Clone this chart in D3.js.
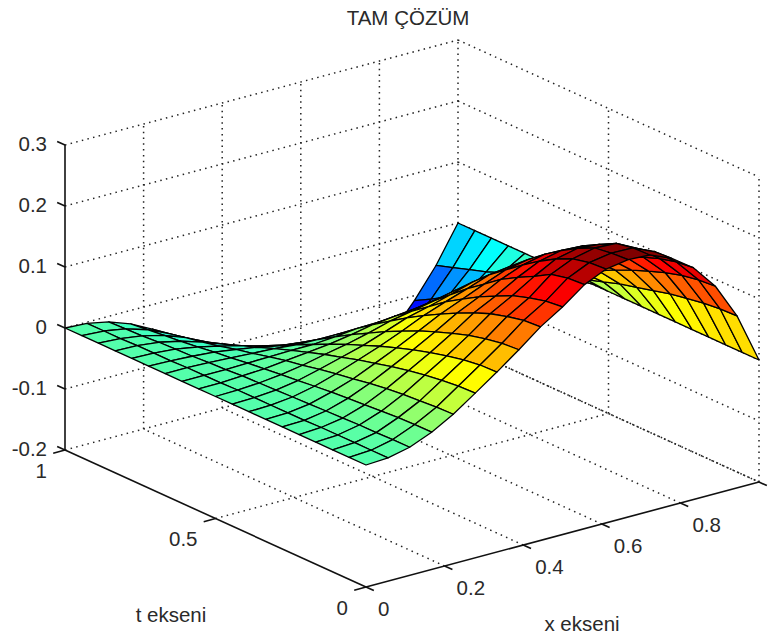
<!DOCTYPE html>
<html lang="tr">
<head>
    <meta charset="UTF-8">
    <title>TAM ÇÖZÜM</title>
    <style>
        body { margin: 0; background: #fff; }
        svg { display: block; }
        text { font-family: "Liberation Sans", Arial, sans-serif; font-size: 20.5px; fill: #2a2a2a; }
        .grid { fill: none; stroke: #222; stroke-width: 1.5px; stroke-dasharray: 1.5 4.3; }
        .grid-dense { stroke-dasharray: 1.5 2.3; }
        .axis { fill: none; stroke: #111; stroke-width: 1.6px; }
        .cell { stroke: #000; stroke-width: 1.3px; stroke-linejoin: round; }
    </style>
</head>
<body>
    <svg id="chart" width="774" height="637"></svg>

    <script src="https://d3js.org/d3.v7.min.js"></script>
    <script>
        const titleText = "TAM ÇÖZÜM";
        const xLabelText = "x ekseni";
        const tLabelText = "t ekseni";

        const xTicks = [0, 0.2, 0.4, 0.6, 0.8, 1];
        const xTickLabels = ["0", "0.2", "0.4", "0.6", "0.8"];
        const tTicks = [0, 0.5, 1];
        const tTickLabels = ["0", "0.5", "1"];
        const zTicks = [-0.2, -0.1, 0, 0.1, 0.2, 0.3];
        const zTickLabels = ["-0.2", "-0.1", "0", "0.1", "0.2", "0.3"];

        // mesh positions, 18 cells each way
        const xValues = [0, .056, .111, .167, .222, .278, .333, .389, .444, .5, .556, .611, .667, .722, .778, .833, .889, .944, 1];
        const tValues = [0, .056, .111, .167, .222, .278, .333, .389, .444, .5, .556, .611, .667, .722, .778, .833, .889, .944, 1];

        // one row per t, one column per x
        const zValues = [
            [0, .002, .010, .025, .045, .070, .095, .122, .150, .173, .200, .216, .222, .220, .205, .180, .140, .082, 0],
            [0, .002, .010, .025, .044, .069, .094, .120, .148, .170, .198, .214, .220, .219, .203, .177, .138, .081, 0],
            [0, .002, .009, .024, .042, .066, .090, .115, .142, .163, .192, .208, .216, .214, .196, .170, .133, .078, 0],
            [0, .002, .009, .022, .040, .062, .084, .108, .134, .154, .176, .195, .203, .200, .184, .160, .125, .073, 0],
            [0, .002, .008, .020, .037, .057, .077, .099, .123, .141, .162, .179, .187, .185, .169, .147, .115, .068, 0],
            [0, .001, .007, .018, .033, .051, .069, .089, .110, .127, .146, .160, .168, .166, .152, .132, .104, .061, 0],
            [0, .001, .006, .016, .028, .044, .060, .078, .096, .111, .126, .140, .147, .146, .133, .116, .092, .054, 0],
            [0, .001, .005, .013, .024, .037, .050, .065, .081, .094, .106, .119, .124, .123, .112, .098, .078, .047, 0],
            [0, .001, .004, .010, .019, .029, .039, .052, .065, .074, .084, .095, .099, .099, .089, .078, .063, .038, 0],
            [0, .001, .003, .007, .013, .021, .028, .037, .047, .054, .061, .069, .072, .072, .064, .056, .047, .029, 0],
            [0, .000, .002, .004, .008, .012, .016, .022, .029, .033, .037, .043, .045, .045, .039, .035, .031, .020, 0],
            [0, .000, .000, .001, .002, .003, .003, .006, .010, .011, .012, .015, .016, .016, .012, .012, .014, .010, 0],
            [0, .000, -.001, -.003, -.005, -.007, -.010, -.011, -.011, -.013, -.015, -.015, -.015, -.014, -.017, -.013, -.005, -.001, 0],
            [0, -.001, -.003, -.006, -.011, -.017, -.024, -.028, -.032, -.037, -.042, -.045, -.046, -.045, -.045, -.038, -.024, -.012, 0],
            [0, -.001, -.004, -.010, -.018, -.027, -.037, -.045, -.052, -.061, -.069, -.075, -.077, -.076, -.074, -.063, -.042, -.022, 0],
            [0, -.001, -.005, -.013, -.024, -.037, -.051, -.062, -.073, -.085, -.096, -.104, -.108, -.107, -.102, -.087, -.061, -.033, 0],
            [0, -.002, -.007, -.016, -.029, -.046, -.063, -.077, -.091, -.105, -.120, -.130, -.135, -.134, -.127, -.109, -.077, -.042, 0],
            [0, -.002, -.008, -.019, -.035, -.054, -.074, -.091, -.109, -.126, -.143, -.156, -.162, -.160, -.152, -.130, -.093, -.051, 0],
            [0, -.002, -.009, -.022, -.040, -.062, -.085, -.105, -.125, -.145, -.165, -.180, -.187, -.185, -.175, -.150, -.108, -.060, 0]
        ];

        const jetStops = [0, 0.125, 0.375, 0.625, 0.875, 1];
        const jetColors = ["#00008f", "#0000ff", "#00ffff", "#ffff00", "#ff0000", "#800000"];

        const svg = d3.select("#chart");

        // the box is drawn from its front floor corner (x=0, t=0, z=-0.2)
        const originX = 366, originY = 587;
        const xToSx = d3.scaleLinear().domain([0, 1]).range([0, 393]);
        const xToSy = d3.scaleLinear().domain([0, 1]).range([0, -105]);
        const tToSx = d3.scaleLinear().domain([0, 1]).range([0, -301]);
        const tToSy = d3.scaleLinear().domain([0, 1]).range([0, -137]);
        const zToSy = d3.scaleLinear().domain([-0.2, 0.3]).range([0, -305]);

        function project(x, t, z) {
            return [originX + xToSx(x) + tToSx(t), originY + xToSy(x) + tToSy(t) + zToSy(z)];
        }

        const line = d3.line();
        const zMin = zTicks[0], zMax = zTicks[zTicks.length - 1];

        function gridLine(a, b, dense) {
            svg.append("path")
                .attr("class", dense ? "grid grid-dense" : "grid")
                .attr("d", line([project(...a), project(...b)]));
        }

        // walls and floor
        xTicks.slice(1).forEach(x => {
            gridLine([x, 1, zMin], [x, 1, zMax]);
            if (x < 1) gridLine([x, 0, zMin], [x, 1, zMin]);
        });
        gridLine([1, 0, zMin], [1, 0, zMax]);
        gridLine([1, 0.5, zMin], [1, 0.5, zMax]);
        gridLine([0, 0.5, zMin], [1, 0.5, zMin]);
        gridLine([1, 0, zMin], [1, 1, zMin], true);
        zTicks.forEach(z => {
            gridLine([0, 1, z], [1, 1, z]);
            gridLine([1, 1, z], [1, 0, z]);
        });

        // surface cells, coloured from their low corner like surf does
        const colorPos = d3.scaleLinear()
            .domain([d3.min(zValues.flat()), d3.max(zValues.flat())])
            .range([0, 1]);
        const jet = d3.scaleLinear().domain(jetStops).range(jetColors);

        const cells = [];
        for (let j = 0; j < tValues.length - 1; j++) {
            for (let i = 0; i < xValues.length - 1; i++) {
                const corners = [[i, j], [i + 1, j], [i + 1, j + 1], [i, j + 1]]
                    .map(([a, b]) => [xValues[a], tValues[b], zValues[b][a]]);
                const depth = d3.mean(corners, c => 0.571 * c[0] + 0.743 * c[1] - 0.458 * c[2]);
                cells.push({ corners, depth, z: zValues[j][i] });
            }
        }
        cells.sort((a, b) => b.depth - a.depth);

        svg.selectAll(".cell")
            .data(cells)
            .enter()
            .append("path")
            .attr("class", "cell")
            .attr("fill", d => jet(colorPos(d.z)))
            .attr("d", d => line(d.corners.map(c => project(...c))) + "Z");

        // axes
        function axisLine(a, b) {
            svg.append("path").attr("class", "axis").attr("d", line([project(...a), project(...b)]));
        }
        axisLine([0, 1, zMin], [0, 1, zMax]);
        axisLine([0, 0, zMin], [0, 1, zMin]);
        axisLine([0, 0, zMin], [1, 0, zMin]);

        xTicks.forEach(x => axisLine([x, 0, zMin], [x, -0.026, zMin]));
        tTicks.forEach(t => axisLine([0, t, zMin], [-0.03, t, zMin]));
        zTicks.forEach(z => axisLine([0, 1, z], [0, 1.026, z]));

        xTickLabels.forEach((label, k) => {
            const p = project(xTicks[k], 0, zMin);
            svg.append("text").attr("x", p[0] + 12).attr("y", p[1] + 22)
                .attr("dy", "0.36em").text(label);
        });
        tTickLabels.forEach((label, k) => {
            const p = project(0, tTicks[k], zMin);
            svg.append("text").attr("x", p[0] - 18).attr("y", p[1] + 20.5)
                .attr("dy", "0.36em").attr("text-anchor", "end").text(label);
        });
        zTickLabels.forEach((label, k) => {
            const p = project(0, 1, zTicks[k]);
            svg.append("text").attr("x", p[0] - 18).attr("y", p[1] - 1)
                .attr("dy", "0.36em").attr("text-anchor", "end").text(label);
        });

        svg.append("text").attr("x", 408).attr("y", 18).attr("dy", "0.36em")
            .attr("text-anchor", "middle").text(titleText);
        svg.append("text").attr("x", 582).attr("y", 624).attr("dy", "0.36em")
            .attr("text-anchor", "middle").text(xLabelText);
        svg.append("text").attr("x", 171).attr("y", 615).attr("dy", "0.36em")
            .attr("text-anchor", "middle").text(tLabelText);
    </script>
</body>
</html>
